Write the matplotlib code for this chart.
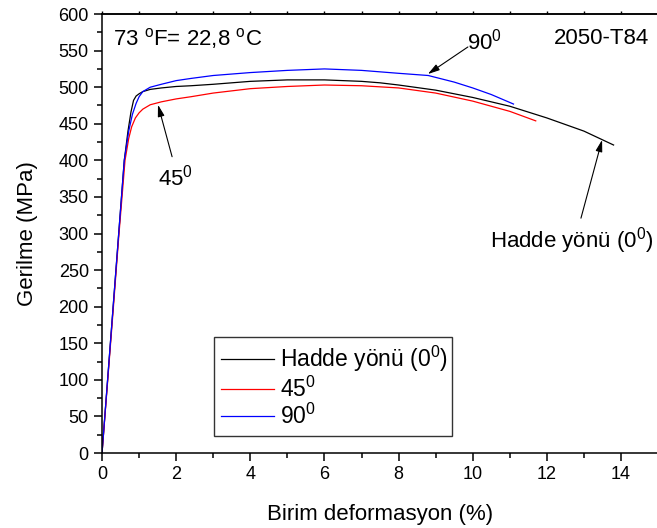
import matplotlib
matplotlib.use("Agg")
import matplotlib.pyplot as plt
from matplotlib.ticker import MultipleLocator

plt.rcParams['font.family'] = ['Liberation Sans', 'DejaVu Sans']
plt.rcParams['mathtext.fontset'] = 'custom'
plt.rcParams['mathtext.rm'] = 'Liberation Sans'
plt.rcParams['mathtext.it'] = 'Liberation Sans'

# Hadde yönü (0 derece)
strain_0 = [0, 0.15, 0.3, 0.45, 0.6, 0.7, 0.78, 0.85, 0.92, 1.0, 1.1, 1.3, 1.6, 2.0, 2.4,
            3.0, 4.0, 5.0, 6.0, 7.0, 7.5, 8.0, 9.0, 10.0, 11.0, 12.0, 13.0, 13.8]
stress_0 = [0, 100, 200, 300, 400, 440, 466, 482, 488, 491, 494, 497, 499, 501, 502,
            504, 508, 510, 510, 508, 506, 503, 496, 486, 474, 458, 440, 421]

# 45 derece
strain_45 = [0, 0.15, 0.3, 0.45, 0.62, 0.72, 0.8, 0.9, 1.0, 1.1, 1.3, 1.6, 2.0, 2.4,
             3.0, 4.0, 5.0, 6.0, 7.0, 8.0, 9.0, 10.0, 11.0, 11.7]
stress_45 = [0, 97, 195, 295, 400, 430, 446, 458, 465, 470, 476, 480, 484, 487,
             492, 498, 501, 503, 502, 499, 492, 481, 467, 454]

# 90 derece
strain_90 = [0, 0.15, 0.3, 0.45, 0.6, 0.72, 0.82, 0.92, 1.0, 1.1, 1.3, 1.6, 2.0, 2.4,
             3.0, 4.0, 5.0, 6.0, 7.0, 8.0, 8.8, 9.5, 10.0, 10.5, 11.1]
stress_90 = [0, 100, 200, 300, 400, 440, 463, 478, 487, 494, 500, 504, 509, 512,
             516, 520, 523, 525, 523, 519, 516, 507, 499, 490, 477]

fig = plt.figure(figsize=(6.57, 5.28), dpi=100)
ax = fig.add_axes([0.1553, 0.142, 0.8463, 0.8314])

ax.plot(strain_0, stress_0, color='black', lw=0.9, label='Hadde yönü (0$^0$)')
ax.plot(strain_45, stress_45, color='red', lw=0.9, label='45$^0$')
ax.plot(strain_90, stress_90, color='blue', lw=0.9, label='90$^0$')

ax.set_xlim(0, 15)
ax.set_ylim(0, 600)
ax.xaxis.set_major_locator(MultipleLocator(2))
ax.xaxis.set_minor_locator(MultipleLocator(1))
ax.yaxis.set_major_locator(MultipleLocator(50))
ax.yaxis.set_minor_locator(MultipleLocator(25))
ax.tick_params(which='major', direction='out', length=6, width=1.1, labelsize=13)
ax.tick_params(which='minor', direction='out', length=3.5, width=1.1)
ax.spines['right'].set_visible(False)
for s in ['left', 'bottom', 'top']:
    ax.spines[s].set_linewidth(1.1)

top = ax.secondary_xaxis('top')
top.xaxis.set_major_locator(MultipleLocator(1))
top.tick_params(direction='out', length=2, width=1.0, labeltop=False)
top.spines['top'].set_linewidth(1.1)

ax.set_xlabel('Birim deformasyon (%)', fontsize=16, labelpad=15)
ax.set_ylabel('Gerilme (MPa)', fontsize=16, labelpad=15)

ax.text(0.3, 567, '73 $^{\\rm o}$F= 22,8 $^{\\rm o}$C', fontsize=16, va='center', ha='left')
ax.text(14.75, 567, '2050-T84', fontsize=16, va='center', ha='right')

arrow = dict(arrowstyle='-|>,head_length=0.7,head_width=0.2', color='black', lw=0.8,
             shrinkA=0, shrinkB=0)
ax.annotate('', xy=(1.51, 476), xytext=(1.89, 405), arrowprops=arrow)
ax.text(1.97, 377, '45$^0$', fontsize=16, ha='center', va='center')
ax.annotate('', xy=(8.79, 518), xytext=(9.87, 555), arrowprops=arrow)
ax.text(10.33, 562, '90$^0$', fontsize=16, ha='center', va='center')
ax.annotate('', xy=(13.49, 428), xytext=(12.92, 321), arrowprops=arrow)
ax.text(12.68, 291, 'Hadde yönü (0$^0$)', fontsize=16, ha='center', va='center')

leg = ax.legend(loc='lower left', bbox_to_anchor=(0.2014, 0.0387, 0.428, 0.232),
                mode='expand', fontsize=16.5, frameon=True, fancybox=False,
                edgecolor='black', borderaxespad=0, handlelength=2.3,
                handletextpad=0.3, labelspacing=0.1, borderpad=0.3)
leg.get_frame().set_linewidth(1.0)

fig.savefig('out.png', dpi=100)
